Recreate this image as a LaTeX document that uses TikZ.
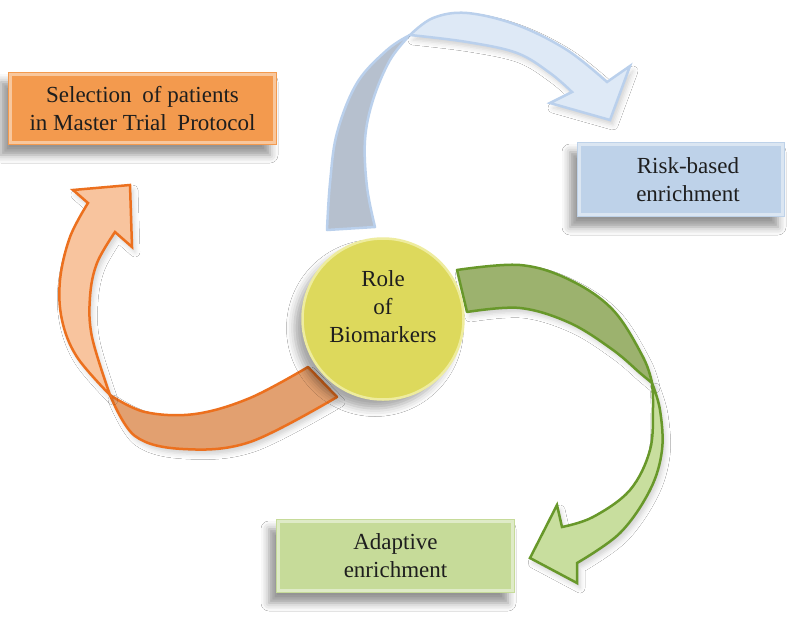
\documentclass[tikz,border=0pt]{standalone}
\usepackage{fontspec}
\setmainfont{Liberation Serif}
\usetikzlibrary{shadows.blur}
\definecolor{orbox}{RGB}{243,154,78}
\definecolor{blbox}{RGB}{190,210,233}
\definecolor{grbox}{RGB}{198,219,153}
\definecolor{yel}{RGB}{221,217,92}
\definecolor{yelrim}{RGB}{238,236,158}
\definecolor{orline}{RGB}{236,112,30}
\definecolor{ordark}{RGB}{226,160,112}
\definecolor{orlight}{RGB}{248,196,158}
\definecolor{blline}{RGB}{186,208,236}
\definecolor{bldark}{RGB}{182,192,206}
\definecolor{bllight}{RGB}{222,233,246}
\definecolor{grline}{RGB}{104,152,42}
\definecolor{grdark}{RGB}{156,178,110}
\definecolor{grlight}{RGB}{200,222,158}
\definecolor{ink}{RGB}{30,30,30}
\begin{document}
\begin{tikzpicture}[x=1pt,y=-1pt,
  every node/.style={font=\rmfamily\fontsize{23}{28}\selectfont, text=ink, align=center, inner sep=0pt},
  softshadow/.style={blur shadow={shadow xshift=-7pt, shadow yshift=-10pt, shadow blur radius=8pt, shadow opacity=42}},
  faintshadow/.style={blur shadow={shadow xshift=3pt, shadow yshift=-5pt, shadow blur radius=5pt, shadow opacity=18}},
  box/.style={rectangle, softshadow,
    path picture={\draw[white, opacity=.45, line width=2.5pt]
      ([shift={(2.5pt,-2.5pt)}]path picture bounding box.north west) rectangle
      ([shift={(-2.5pt,2.5pt)}]path picture bounding box.south east);}},
  backface/.style={line width=2.5pt, line join=round},
  frontface/.style={line width=2.5pt, line join=miter},
  edge/.style={smooth, tension=.6}
]
\useasboundingbox (0,0) rectangle (805,621);
\fill[white] (0,0) rectangle (805,621);

% orange arrow: twisted tail, then head pointing up-right
\filldraw[backface, faintshadow, draw=orline, fill=ordark]
  plot[edge] coordinates {(308,367) (250,398) (195,414) (145,412) (110,395)}
  -- plot[edge] coordinates {(110,395) (135,436) (183,449) (250,442) (337,397)} -- cycle;
\filldraw[frontface, faintshadow, draw=orline, fill=orlight]
  plot[edge] coordinates {(110,395) (77,357) (62,320) (60,280) (70,237) (88,203)}
  -- (73,190) -- (130,185) -- (132,247) -- (115,232)
  -- plot[edge] coordinates {(115,232) (97,263) (90,297) (92,337) (110,395)} -- cycle;

% blue arrow
\filldraw[backface, draw=blline, fill=bldark]
  plot[edge] coordinates {(327,230) (330,183) (337,133) (357,83) (387,50) (410,35)}
  -- plot[edge] coordinates {(410,35) (390,60) (373,100) (365,140) (367,187) (375,227)} -- cycle;
\filldraw[frontface, faintshadow, draw=blline, fill=bllight]
  plot[edge] coordinates {(410,35) (433,18) (467,13) (517,25) (567,50) (607,82)}
  -- (630,66) -- (610,120) -- (550,103) -- (572,92)
  -- plot[edge] coordinates {(572,92) (550,73) (517,53) (467,42) (410,35)} -- cycle;

% green arrow
\filldraw[backface, faintshadow, draw=grline, fill=grdark]
  plot[edge] coordinates {(457,270) (520,265) (570,280) (613,310) (643,357) (652,383)}
  -- plot[edge] coordinates {(652,383) (640,373) (613,350) (570,323) (520,308) (467,312)} -- cycle;
\filldraw[frontface, faintshadow, draw=grline, fill=grlight]
  plot[edge] coordinates {(652,383) (660,410) (662,450) (650,490) (620,533) (577,563)}
  -- (577,583) -- (530,558) -- (557,505) -- (562,527)
  -- plot[edge] coordinates {(562,527) (593,517) (630,490) (650,450) (653,407) (652,383)} -- cycle;

% centre
\node[circle, fill=yel, draw=yelrim, line width=2.5pt, minimum size=161pt,
  blur shadow={shadow xshift=-8pt, shadow yshift=-9pt, shadow blur radius=8pt, shadow opacity=35}] (bio) at (383,319) {};
\node (biotext) at (383,307) {Role\\of\\Biomarkers};

% outcome boxes
\node[box, fill=orbox, minimum width=269pt, minimum height=73pt] (select) at (142.5,108.5)
  {Selection\hspace{5pt} of patients\\in Master Trial\hspace{5pt} Protocol};
\node[box, fill=blbox, minimum width=208pt, minimum height=75pt] (risk) at (681,179.5)
  {\hspace*{14pt}Risk-based\\\hspace*{14pt}enrichment};
\node[box, fill=grbox, minimum width=239pt, minimum height=74pt] (adapt) at (395.5,556)
  {Adaptive\\enrichment};
\end{tikzpicture}
\end{document}
